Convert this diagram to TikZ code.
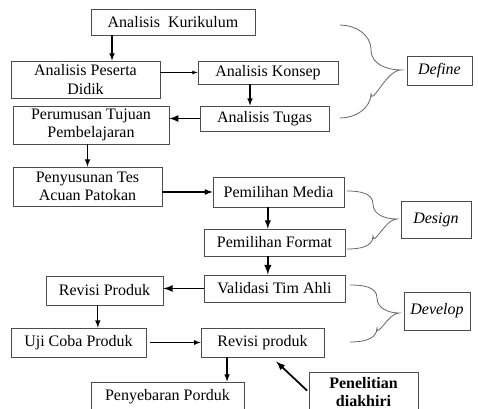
\documentclass[tikz,border=0pt]{standalone}
\usepackage{fontspec}
\setmainfont{Liberation Serif}
\usetikzlibrary{arrows}

\tikzset{
  box/.style={draw=black!70, line width=0.6pt, inner sep=1pt, align=center,
    font=\fontsize{12}{14}\selectfont},
  phase/.style={box, font=\fontsize{12}{14}\selectfont\itshape},
  flow/.style={-latex, line width=0.9pt},
  brace/.style={draw=black!60, line width=0.6pt},
}

\begin{document}
\begin{tikzpicture}[x=0.75pt,y=-0.75pt]
\useasboundingbox (0,0) rectangle (478,409);
\clip (0,0) rectangle (478,409);

% define
\node[box, minimum width=123pt, minimum height=19.5pt] (ak) at (173,22) {Analisis\ \ Kurikulum};
\node[box, minimum width=111.75pt, minimum height=27.75pt] (apd) at (85.5,79.5) {Analisis Peserta\\Didik};
\node[box, minimum width=105pt, minimum height=17.25pt] (akon) at (268,72.5) {Analisis Konsep};
\node[box, minimum width=96.75pt, minimum height=18.75pt] (atug) at (264.5,118.5) {Analisis Tugas};
\node[box, minimum width=117pt, minimum height=28.5pt] (ptp) at (91,125) {Perumusan Tujuan\\Pembelajaran};

% design
\node[box, minimum width=111.75pt, minimum height=29.25pt] (ptap) at (87.5,186.5) {Penyusunan Tes\\Acuan Patokan};
\node[box, minimum width=98.25pt, minimum height=22.5pt] (pmed) at (278.5,192) {Pemilihan Media};
\node[box, minimum width=105.75pt, minimum height=20.25pt] (pfor) at (274.5,242.5) {Pemilihan Format};

% develop
\node[box, minimum width=105.75pt, minimum height=20.25pt] (val) at (274.5,288.5) {Validasi Tim Ahli};
\node[box, minimum width=87.75pt, minimum height=21.75pt] (revP) at (104.5,290.5) {Revisi Produk};
\node[box, minimum width=101.25pt, minimum height=21.75pt] (uji) at (78.5,342.5) {Uji Coba Produk};
\node[box, minimum width=92.25pt, minimum height=21.75pt] (revp) at (262.5,342.5) {Revisi produk};
\node[box, minimum width=114.75pt, minimum height=22.5pt] (peny) at (167.5,397) {Penyebaran Porduk};
\node[box, font=\fontsize{12}{13.5}\selectfont\bfseries, minimum width=81.75pt, minimum height=30pt] (pen) at (363.5,392) {Penelitian\\diakhiri};

% phases
\node[phase, minimum width=48.75pt, minimum height=21.75pt] (def) at (439.5,70.5) {Define};
\node[phase, minimum width=52.5pt, minimum height=27.75pt] (des) at (436,219.5) {Design};
\node[phase, minimum width=49.5pt, minimum height=28.5pt] (dev) at (437,311) {Develop};

% arrows
\draw[flow] ([xshift=-45.75pt]ak.south) -- ([xshift=-45.75pt]ak.south |- apd.north);
\draw[flow, line width=0.4pt] (apd.east |- akon.west) -- (akon.west);
\draw[flow] ([xshift=-13.5pt]akon.south) -- ([xshift=-13.5pt]akon.south |- atug.north);
\draw[flow, line width=1.3pt] (atug.west) -- (atug.west -| ptp.east);
\draw[flow] (ptp.south -| ptap.north) -- (ptap.north);
\draw[flow, line width=1pt] (ptap.east |- pmed.west) -- (pmed.west);
\draw[flow, line width=1.1pt] ([xshift=-5pt]pfor.north |- pmed.south) -- ([xshift=-5pt]pfor.north);
\draw[flow, line width=1.5pt] ([xshift=-5pt]pfor.south) -- ([xshift=-5pt]val.north);
\draw[flow, line width=1.4pt] (val.west) -- (val.west -| revP.east);
\draw[flow] ([xshift=-5pt]revP.south) -- ([xshift=-5pt]revP.south |- uji.north);
\draw[flow, line width=0.7pt, shorten <=3pt] (uji.east) -- (revp.west);
\draw[flow] ([xshift=-26.6pt]revp.south) -- ([xshift=-26.6pt]revp.south |- peny.north);
\draw[flow, line width=1.3pt, shorten <=1.5pt, shorten >=4.5pt] (pen.west) -- ([xshift=7pt]revp.south);

% braces
\draw[brace] (340,25) to[out=0,in=90] (371,50) to[out=-90,in=180] (401,70)
  to[out=180,in=-90] (371,93) to[out=-90,in=0] (340,118);
\draw[brace] (347,191) to[out=0,in=90] (373,204) to[out=-90,in=180] (397,219)
  to[out=180,in=-90] (373,236) to[out=-90,in=0] (347,249);
\draw[brace] (350,285) to[out=0,in=90] (377,298) to[out=-90,in=180] (399,313)
  to[out=180,in=-90] (377,328) to[out=-90,in=0] (350,342);
\end{tikzpicture}
\end{document}
